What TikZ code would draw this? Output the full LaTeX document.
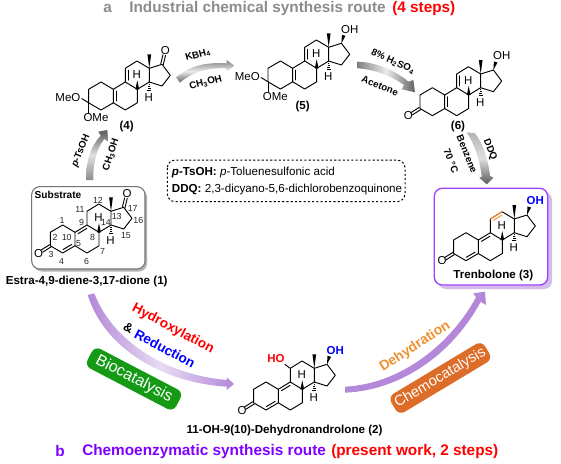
\documentclass[tikz,border=0pt]{standalone}
\usepackage{fontspec}
\setmainfont{Liberation Sans}
\usetikzlibrary{calc}
\definecolor{hydro}{HTML}{FF0000}
\definecolor{reduc}{HTML}{0000FF}
\definecolor{routeb}{HTML}{8000FF}
\definecolor{greenbox}{HTML}{149A14}
\definecolor{orangebox}{HTML}{DC6C28}
\definecolor{dehyd}{HTML}{F09030}
\definecolor{archp}{HTML}{B388D8}
\definecolor{titlegray}{HTML}{8C8C8C}
\newcommand{\szatom}{\fontsize{8.6}{10}\selectfont}
\newcommand{\szbold}{\fontsize{8.7}{10}\selectfont\bfseries}
\newcommand{\szsmall}{\fontsize{7.3}{9}\selectfont\bfseries}
\newcommand{\sztitle}{\fontsize{11.5}{13}\selectfont\bfseries}
\newcommand{\sznum}{\fontsize{6.6}{8}\selectfont}
\tikzset{
  bond/.style={line width=0.7pt,line cap=round,line join=round},
  atomlabel/.style={inner sep=0.3pt,font=\szatom},
  boldlabel/.style={inner sep=0pt,font=\szbold},
  reagent/.style={inner sep=0pt,font=\szsmall},
  numlabel/.style={inner sep=0pt,font=\sznum,text=black!85},
  titletext/.style={inner sep=0pt,font=\sztitle,anchor=west},
  grayarrow/.style={left color=black!50,right color=black!62,middle color=black!8,draw=none},
}
\newcommand{\dbl}[3][black]{\draw[bond,#1] ($(#2)!0.14!(#3)!2.1pt!90:(#3)$) -- ($(#3)!0.14!(#2)!-2.1pt!90:(#2)$);}
\newcommand{\cbl}[2]{\draw[bond] ($(#1)!1pt!90:(#2)$) -- ($(#2)!1pt!-90:(#1)$);\draw[bond] ($(#1)!-1pt!90:(#2)$) -- ($(#2)!-1pt!-90:(#1)$);}
\newcommand{\wdg}[2]{\fill ($(#1)$) -- ($(#2)!1.4pt!90:(#1)$) -- ($(#2)!-1.4pt!90:(#1)$) -- cycle;}
\newcommand{\hsh}[2]{\foreach \t/\w in {0.2/0.5pt,0.42/0.8pt,0.64/1.1pt,0.86/1.5pt}{\draw[line width=0.4pt] ($(#1)!\t!(#2)!\w!90:(#2)$) -- ($(#1)!\t!(#2)!-\w!90:(#2)$);}}
\newcommand{\steroid}[3]{
  \begin{scope}[shift={(#1,#2)}]
  \coordinate (C1) at (-12.3,-7.3);\coordinate (C2) at (-24.7,0);\coordinate (C3) at (-24.7,13.5);
  \coordinate (C4) at (-12.3,20.7);\coordinate (C5) at (0,13.5);\coordinate (C10) at (0,0);
  \coordinate (C9) at (12,-7.3);\coordinate (C8) at (24,0);\coordinate (C7) at (24,13.5);
  \coordinate (C6) at (12,20.7);\coordinate (C11) at (12,-21);\coordinate (C12) at (23.7,-28.3);
  \coordinate (C13) at (36,-21);\coordinate (C14) at (36,-7.3);\coordinate (C17) at (48.7,-25);
  \coordinate (C16) at (57,-14);\coordinate (C15) at (48.7,-3.3);\coordinate (Me) at (36,-35);
  \coordinate (Hw) at (24,-9);\coordinate (Hh) at (36,2);\coordinate (Oxy) at (51,-33);
  \node[atomlabel] (#3H8) at (23.5,-14.5) {H};
  \node[atomlabel] (#3H14) at (35.5,8) {H};
  \draw[bond] (C1)--(C2)--(C3)--(C4)--(C5)--(C10)--cycle;
  \draw[bond] (C10)--(C9)--(C8)--(C7)--(C6)--(C5);
  \draw[bond] (C9)--(C11)--(C12)--(C13)--(C14)--(C8);
  \draw[bond] (C13)--(C17)--(C16)--(C15)--(C14);
  \wdg{C13}{Me}\wdg{Hw}{C8}\hsh{C14}{Hh}
  \end{scope}
}
\newcommand{\ketoA}[3]{%
  \begin{scope}[shift={(#1,#2)}]
  \node[atomlabel] (#3O) at (-36.3,20.8) {O};
  \coordinate (Oe) at ($(C3)!0.72!(#3O)$);
  \cbl{C3}{Oe}
  \end{scope}
}
\newcommand{\ketoD}[3]{%
  \begin{scope}[shift={(#1,#2)}]
  \node[atomlabel] (#3Od) at (52,-38.5) {O};
  \coordinate (Oe) at ($(C17)!0.68!(#3Od)$);
  \cbl{C17}{Oe}
  \end{scope}
}
\newcommand{\hydroxy}[4]{%
  \begin{scope}[shift={(#1,#2)}]
  \wdg{C17}{Oxy}
  \node[atomlabel] (#3OH) at (57,-39) {#4};
  \end{scope}
}
\newcommand{\ketal}[3]{%
  \begin{scope}[shift={(#1,#2)}]
  \node[atomlabel,anchor=east] (#3MeO) at (-32.3,8) {MeO};
  \node[atomlabel] (#3OMe) at (-17.3,28) {OMe};
  \coordinate (Ma) at (-31.5,9.3);\coordinate (Mb) at (-24.7,23.5);
  \draw[bond] (C3)--(Ma);\draw[bond] (C3)--(Mb);
  \end{scope}
}
\begin{document}
\begin{tikzpicture}[x=0.75pt,y=-0.75pt]
\useasboundingbox (0,0) rectangle (561,464);
\fill[white] (0,0) rectangle (561,464);

% titles
\node[titletext,text=titlegray] (ta) at (103,8.5) {a};
\node[titletext,text=titlegray] (tb) at (129,8.5) {Industrial chemical synthesis route};
\node[titletext,text=red] (tc) at (392,8.5) {(4 steps)};
\node[titletext,text=routeb] (td) at (55,451.5) {b};
\node[titletext,text=routeb] (te) at (82,451.5) {Chemoenzymatic synthesis route};
\node[titletext,text=red] (tf) at (331,451.5) {(present work, 2 steps)};

% boxes
\fill[black!30,rounded corners=6pt] (34,189) rectangle (147,271.5);
\draw[black!55,line width=0.8pt,fill=white,rounded corners=6pt] (31.7,186.7) rectangle (145,269);
\fill[archp!55,rounded corners=6pt] (438,192) rectangle (552,289);
\draw[routeb!75,line width=1pt,fill=white,rounded corners=6pt] (434.3,188.3) rectangle (547.7,285);
\draw[black,line width=0.75pt,dash pattern=on 1.6pt off 1.6pt,rounded corners=6pt] (167.3,160) rectangle (405,201.7);

% molecule 4
\steroid{113.3}{89.3}{m4}
\dbl{C10}{C5}\dbl{C11}{C9}
\ketal{113.3}{89.3}{m4}
\ketoD{113.3}{89.3}{m4}
\node[boldlabel] (l4) at (126.7,126) {(4)};

% molecule 5
\steroid{292.7}{68.3}{m5}
\dbl{C10}{C5}\dbl{C11}{C9}
\ketal{292.7}{68.3}{m5}
\hydroxy{292.7}{68.3}{m5}{OH}
\node[boldlabel] (l5) at (302.7,106.7) {(5)};

% molecule 6
\steroid{444.7}{95}{m6}
\dbl{C10}{C5}\dbl{C11}{C9}
\ketoA{444.7}{95}{m6}
\hydroxy{444.7}{95}{m6}{OH}
\node[boldlabel] (l6) at (458,127) {(6)};

% substrate 1
\steroid{75}{232.3}{m1}
\dbl{C4}{C5}\dbl{C9}{C10}
\ketoA{75}{232.3}{m1}
\ketoD{75}{232.3}{m1}
\node[inner sep=0pt,font=\fontsize{7.6}{9}\selectfont\bfseries] (subs) at (58,194.5) {Substrate};
\foreach \n/\px/\py in {1/186/212,2/165/262,3/153/313,4/185/335,5/236/282,6/260/333,7/308/305,8/278/262,9/245/218,10/200/262,11/240/177,12/294/150,13/350/200,14/318/218,15/378/258,16/415/210,17/398/175}{
  \node[numlabel] (n\n) at ({\px/3},{\py/3+150}) {\n};
}
\node[boldlabel] (l1) at (86.7,281.7) {Estra-4,9-diene-3,17-dione (1)};

% trenbolone 3
\steroid{478.3}{240}{m3}
\dbl{C4}{C5}\dbl{C9}{C10}
\draw[bond,dehyd,line width=0.9pt] (C11)--(C12);
\dbl[dehyd]{C12}{C11}
\ketoA{478.3}{240}{m3}
\hydroxy{478.3}{240}{m3}{\textcolor{reduc}{\textbf{OH}}}
\node[boldlabel] (l3) at (493.3,275) {Trenbolone (3)};

% intermediate 2
\steroid{278.3}{389.3}{m2}
\dbl{C4}{C5}\dbl{C9}{C10}
\ketoA{278.3}{389.3}{m2}
\hydroxy{278.3}{389.3}{m2}{\textcolor{reduc}{\textbf{OH}}}
\node[atomlabel,text=red,font=\szatom\bfseries] (m2HO) at (276,358.5) {HO};
\coordinate (HOe) at (285,364.5);
\draw[bond] (C11)--(HOe);
\node[boldlabel] (l2) at (284.5,430) {11-OH-9(10)-Dehydronandrolone (2)};

% grey arrows
\shade[grayarrow,shading angle=0] (176,77.3) .. controls (190,66) and (205,62) .. (226.7,63.3) -- (226.7,60) -- (234.3,65.7) -- (226.7,71) -- (226.7,68.3) .. controls (208,67.5) and (192,72) .. (180,82.7) -- cycle;
\shade[grayarrow] (357.3,61.7) .. controls (375,62) and (395,70) .. (408.3,81.7) -- (413.3,80) -- (415,92.3) -- (401.7,89.3) -- (404,85) .. controls (390,75) and (372,69) .. (357.3,68.3) -- cycle;
\shade[top color=black!30,bottom color=black!65,middle color=black!12,draw=none] (466.7,132.3) .. controls (474,143) and (480,160) .. (481.7,176.7) -- (479.3,177.7) -- (486.7,184.3) -- (493.3,177.7) -- (490,175.7) .. controls (488,158) and (482,142) .. (475,133.3) -- cycle;
\shade[top color=black!65,bottom color=black!45,middle color=black!12,draw=none] (86,180) .. controls (86,160) and (91,146) .. (100.7,135.7) -- (98.3,131.7) -- (107.3,130) -- (108.3,141.7) -- (104.3,139) .. controls (97,148) and (93,162) .. (93.3,180) -- cycle;

% purple arrows
\shade[left color=archp,right color=archp,middle color=archp!30,draw=none] (94.3,293.3) .. controls (113,342) and (167,375) .. (226.7,380) -- (226.7,377.3) -- (234,384) -- (226.7,390) -- (226.7,386.7) .. controls (165,383) and (105,350) .. (87.7,295) -- cycle;
\fill[archp] (345,386.7) .. controls (400,384) and (450,345) .. (476,297.3) -- (473.3,293.3) -- (485,291.7) -- (486,305) -- (480.7,301.7) .. controls (455,350) and (405,390) .. (345,392.7) -- cycle;

% reagent labels
\node[reagent,rotate=15] (r1) at (198,55) {KBH\textsubscript{4}};
\node[reagent,rotate=15] (r2) at (205.7,83) {CH\textsubscript{3}OH};
\node[reagent,rotate=-24] (r3) at (393,61.7) {8\% H\textsubscript{2}SO\textsubscript{4}};
\node[reagent,rotate=-22] (r4) at (380,86) {Acetone};
\node[reagent,rotate=68] (r5) at (81,151) {\textit{p}-TsOH};
\node[reagent,rotate=72] (r6) at (111,155) {CH\textsubscript{3}OH};
\node[reagent,rotate=-68] (r7) at (490,150) {DDQ};
\node[reagent,rotate=-68] (r8) at (467,154) {Benzene};
\node[reagent,rotate=-68] (r9) at (451,161) {70 °C};

% dashed box text
\node[anchor=west,inner sep=0pt,font=\fontsize{8.7}{10}\selectfont] (d1) at (171.7,172.7) {\textbf{\textit{p}-TsOH:} \textit{p}-Toluenesulfonic acid};
\node[anchor=west,inner sep=0pt,font=\fontsize{8.7}{10}\selectfont] (d2) at (171.7,189) {\textbf{DDQ:} 2,3-dicyano-5,6-dichlorobenzoquinone};

% process labels
\node[inner sep=0pt,text=red,rotate=-28,font=\fontsize{10.2}{12}\selectfont\bfseries] (hy) at (173,329) {Hydroxylation};
\node[inner sep=0pt,rotate=-28,font=\fontsize{9.5}{11}\selectfont\bfseries] (am) at (128.5,328) {\&};
\node[inner sep=0pt,text=reduc,rotate=-28,font=\fontsize{10.2}{12}\selectfont\bfseries] (re) at (165,348.5) {Reduction};
\node[inner sep=0pt,text=dehyd,rotate=33,font=\fontsize{10.4}{12}\selectfont\bfseries] (de) at (415,346.7) {Dehydration};
\node[rotate=-27.6,fill=greenbox,text=white,rounded corners=5pt,minimum width=75pt,minimum height=16.5pt,inner sep=0pt,font=\fontsize{12}{14}\selectfont] (bio) at (134,379) {Biocatalysis};
\node[rotate=31,fill=orangebox,text=white,rounded corners=5pt,minimum width=82pt,minimum height=16pt,inner sep=0pt,font=\fontsize{11}{13}\selectfont] (che) at (440.3,378) {Chemocatalysis};
\end{tikzpicture}
\end{document}
